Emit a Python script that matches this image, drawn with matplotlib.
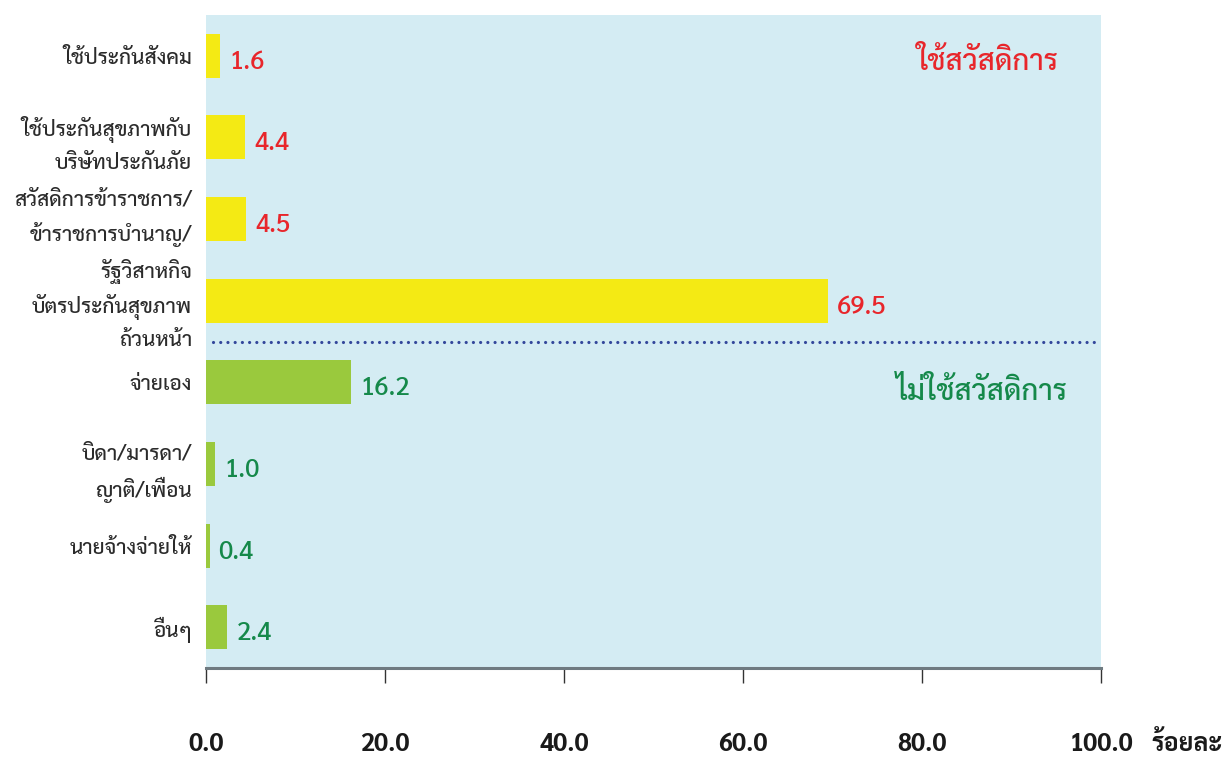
import matplotlib
matplotlib.use("Agg")
import matplotlib.pyplot as plt
import matplotlib.transforms as mtransforms
import numpy as np

plt.rcParams['font.family'] = ['Sarabun', 'DejaVu Sans']

#Data
categories = [
    "ใช้ประกันสังคม",
    "ใช้ประกันสุขภาพกับ\nบริษัทประกันภัย",
    "สวัสดิการข้าราชการ/\nข้าราชการบำนาญ/\nรัฐวิสาหกิจ",
    "บัตรประกันสุขภาพ\nถ้วนหน้า",
    "จ่ายเอง",
    "บิดา/มารดา/\nญาติ/เพื่อน",
    "นายจ้างจ่ายให้",
    "อื่นๆ",
]
percent = [1.6, 4.4, 4.5, 69.5, 16.2, 1.0, 0.4, 2.4]
uses_welfare = [True, True, True, True, False, False, False, False]
group_labels = ["ใช้สวัสดิการ", "ไม่ใช้สวัสดิการ"]
x_ticks = [0, 20, 40, 60, 80, 100]
unit_label = "ร้อยละ"

yellow = '#f4ea14'
green = '#9ac93d'
red_text = '#e8262b'
green_text = '#15894a'
bg_color = '#d4ecf3'

fig = plt.figure(figsize=(12.31, 7.58), dpi=100)
ax = fig.add_axes([206/1231, 1 - 668/758, (1101 - 206)/1231, (668 - 15)/758])
ax.set_facecolor(bg_color)

y_pos = np.arange(len(categories))
bar_colors = [yellow if w else green for w in uses_welfare]
ax.barh(y_pos, percent, height=0.54, color=bar_colors, zorder=2)

#Value labels next to each bar
for y, v, w in zip(y_pos, percent, uses_welfare):
    ax.text(v + 1.0, y + 0.08, f"{v:.1f}", va='center', ha='left',
            fontsize=18.5, fontweight='medium',
            color=red_text if w else green_text, zorder=3)

#Dotted divider between the two groups
n_welfare = sum(uses_welfare)
ax.plot([0.008, 0.993], [n_welfare - 0.5] * 2, transform=ax.get_yaxis_transform(),
        color='#33479b', linewidth=2.3, linestyle=(0, (0.01, 2.25)),
        dash_capstyle='round', zorder=3)

#Group headings
ax.text(0.874, 0.08, group_labels[0], transform=ax.get_yaxis_transform(),
        ha='center', va='center', fontsize=21, fontweight='medium', color=red_text)
ax.text(0.867, n_welfare + 0.12, group_labels[1], transform=ax.get_yaxis_transform(),
        ha='center', va='center', fontsize=21, fontweight='medium', color=green_text)

ax.set_xlim(0, 100)
ax.set_ylim(len(categories) - 0.5, -0.5)
ax.set_yticks(y_pos)
ax.set_yticklabels(categories, fontsize=15, fontweight='medium', color='#2b2b2b',
                   linespacing=1.62)
ax.tick_params(axis='y', length=0, pad=10)

#the long labels sit a bit below their bars in the original
ticklabels = ax.get_yticklabels()
for i, dy in [(2, -9), (3, -14)]:
    shift = mtransforms.ScaledTranslation(0, dy / 100, fig.dpi_scale_trans)
    ticklabels[i].set_transform(ticklabels[i].get_transform() + shift)

ax.set_xticks(x_ticks)
ax.set_xticklabels([f"{t:.1f}" for t in x_ticks], fontsize=18, fontweight='bold',
                   color='#1a1a1a')
ax.tick_params(axis='x', length=11, width=1, color='#333333', pad=36)

for side in ['top', 'right', 'left']:
    ax.spines[side].set_visible(False)
ax.spines['bottom'].set_color('#6f7a80')
ax.spines['bottom'].set_linewidth(2.2)

fig.text(1151/1231, 1 - 745/758, unit_label, ha='left', va='center',
         fontsize=18, fontweight='bold', color='#1a1a1a')

fig.savefig("out.png", dpi=100)
